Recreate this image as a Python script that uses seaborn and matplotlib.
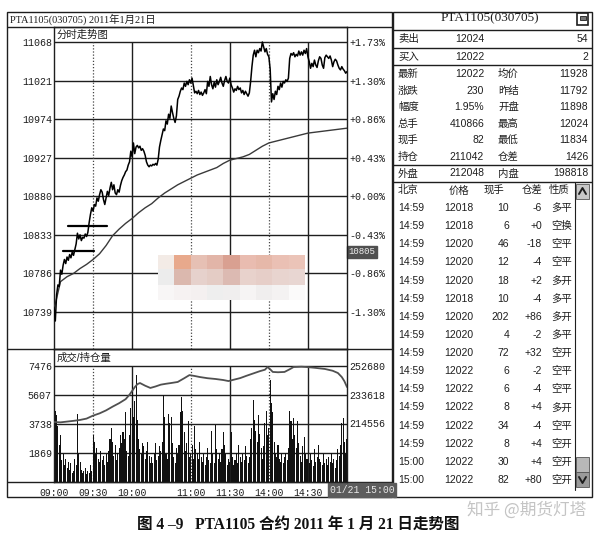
import numpy as np
import matplotlib
matplotlib.use("Agg")
import matplotlib.pyplot as plt
import seaborn as sns
from matplotlib.patches import Rectangle
from matplotlib.colors import to_rgb

# ── data ─────────────────────────────────────────────────────────────────────
# minute index: 0 = 09:00 ... 225 = 15:00 (breaks squeezed out)
price = [
    10745, 10728, 10760, 10772, 10770, 10790, 10785, 10796, 10803, 10798,
    10806, 10802, 10809, 10805, 10812, 10808, 10815, 10822, 10835, 10828,
    10833, 10826, 10830, 10829, 10834, 10831, 10836, 10848, 10858, 10866,
    10862, 10870, 10868, 10878, 10874, 10882, 10888, 10885, 10876, 10870,
    10878, 10886, 10881, 10890, 10897, 10888, 10894, 10884, 10882, 10888,
    10885, 10893, 10899, 10903, 10906, 10910, 10912, 10918, 10922, 10935,
    10928, 10945, 10932, 10940, 10942, 10939, 10941, 10936, 10938, 10935,
    10930, 10922, 10918, 10916, 10918, 10917, 10919, 10918, 10920, 10918,
    10925, 10940, 10948, 10955, 10962, 10960, 10972, 10968, 10980, 10975,
    10990, 10982, 10975, 10970, 10978, 10998, 11002, 11008, 11012, 11010,
    11018, 11014, 11020, 11016, 11022, 11018, 11024, 11015, 11006, 11008,
    11005, 11009, 11004, 11007, 11003, 11006, 11010, 11005, 11020, 11014,
    11026, 11016, 11011, 11019, 11013, 11022, 11016, 11020, 11025, 11018,
    11014, 11021, 11026, 11020, 11018, 11024, 11016, 11012, 11007, 11011,
    11009, 11014, 11010, 11012, 11006, 11009, 11004, 11008, 11005, 11002,
    11006, 11020, 11038, 11052, 11058, 11050, 11058, 11055, 11060, 11057,
    11068, 11062, 11056, 11060, 11053, 11050, 11035, 10995, 11005, 10998,
    11008, 11004, 11014, 11010, 11018, 11013, 11020, 11018, 11022, 11020,
    11024, 11048, 11054, 11052, 11055, 11050, 11053, 11051, 11057, 11052,
    11056, 11052, 11058, 11054, 11060, 11050, 11044, 11036, 11042, 11038,
    11046, 11040, 11037, 11045, 11050, 11048, 11040, 11036, 11049, 11052,
    11050, 11048, 11051, 11046, 11038, 11044, 11047, 11045, 11040, 11036,
    11034, 11038, 11035, 11033, 11030, 11032,
]

volume = [
    5800, 4600, 4300, 3600, 2400, 3000, 1400, 1800, 1100, 1500, 900, 1300, 800, 1200, 600,
    700, 1500, 1100, 4400, 1900, 1300, 800, 600, 700, 900, 500, 700, 600, 1100, 700,
    3000, 2600, 1800, 2200, 1500, 1300, 2000, 1400, 1700, 1100, 1800, 1300, 2000, 2800, 3500,
    2600, 1700, 2400, 1400, 1900, 2200, 3000, 2500, 3200, 2800, 4500, 2000, 1700, 3000, 4800,
    6200, 4200, 5200, 6900, 4000, 2800, 2100, 1800, 2500, 2300, 1500, 2000, 2600, 1700, 1200,
    1600, 1200, 1900, 2500, 1400, 1700, 2300, 2000, 2600, 5600, 4200, 1800, 1500, 4400, 3800,
    4200, 2500, 1600, 1200, 2200, 1800, 2400, 4500, 5500, 4600, 3200, 2000, 2500, 3900, 1600,
    1800, 2400, 1500, 3600, 2100, 1900, 1500, 2600, 1600, 1300, 1800, 1100, 1600, 2200, 1400,
    1200, 3300, 1800, 1200, 3700, 2100, 1500, 1900, 1300, 2100, 3200, 2400, 1800, 1100, 1500,
    1300, 3200, 1600, 1100, 1400, 1900, 1200, 2400, 1600, 1300, 1800, 1400, 2300, 1700, 1200,
    1600, 2800, 3500, 5300, 4000, 3300, 2600, 4300, 3100, 2200, 1500, 2300, 3800, 4600, 3000,
    3500, 6600, 5100, 4500, 2600, 1900, 1600, 2400, 1500, 1300, 1800, 1200, 1600, 1900, 1400,
    2200, 4600, 3900, 2800, 4100, 3000, 2200, 3900, 2500, 1700, 1300, 2300, 2900, 1800, 1500,
    1500, 1200, 1800, 1400, 1000, 2100, 1300, 1600, 2400, 1500, 1300, 1100, 1800, 1200, 1500,
    1100, 1600, 1300, 1900, 1200, 1500, 900, 1400, 2100, 1700, 2400, 3800, 4100, 2600, 1900, 2800,
]
minutes = np.arange(len(price))

avg_min = [0, 5, 10, 15, 20, 25, 30, 35, 40, 45, 50, 55, 60, 65, 70, 75, 80, 85, 90, 95,
           100, 105, 110, 115, 120, 125, 130, 135, 140, 145, 150, 155, 160, 165, 170, 175,
           180, 185, 190, 195, 200, 205, 210, 215, 220, 225]
avg_val = [10742, 10776, 10782, 10786, 10792, 10797, 10803, 10810, 10820, 10832, 10840,
           10847, 10853, 10860, 10866, 10871, 10878, 10884, 10889, 10894, 10898, 10902,
           10906, 10909, 10912, 10915, 10920, 10924, 10926, 10928, 10931, 10936, 10941,
           10945, 10947, 10949, 10951, 10953, 10955, 10957, 10958, 10959, 10960, 10961,
           10962, 10963]

oi_min = [0, 5, 10, 15, 20, 25, 30, 35, 40, 45, 50, 55, 58, 60, 62, 64, 66, 70, 74, 78,
          82, 86, 90, 95, 100, 104, 108, 112, 118, 124, 130, 134, 138, 143, 148, 154, 158,
          162, 164, 166, 168, 172, 177, 181, 184, 190, 194, 200, 208, 214, 218, 221, 223, 225]
oi_val = [215200, 215000, 215500, 216000, 216600, 217500, 219500, 221000, 223000, 225500,
          227800, 230500, 233500, 236000, 238500, 240500, 241300, 239500, 238000, 239000,
          240200, 240800, 241300, 242000, 244500, 246600, 246000, 245300, 244500, 244000,
          243300, 242600, 243500, 244600, 246200, 248000, 249200, 250200, 252000, 250500,
          248700, 248500, 248700, 250500, 252000, 252200, 252000, 251500, 250700, 249500,
          248000, 245300, 242500, 238600]

price_levels = [11068, 11021, 10974, 10927, 10880, 10833, 10786, 10739]
pct_labels = ["+1.73%", "+1.30%", "+0.86%", "+0.43%", "+0.00%", "-0.43%", "-0.86%", "-1.30%"]
vol_levels = [7476, 5607, 3738, 1869]
oi_levels = [252680, 233618, 214556]

time_ticks = [0, 30, 60, 105, 135, 165, 195]
time_labels = ["09:00", "09:30", "10:00", "11:00", "11:30", "14:00", "14:30"]
solid_vlines = [60, 135, 195]
dotted_vlines = [30, 105, 165]

# hand-drawn support lines on the chart
mark_level = [10844, 10813]
mark_start = [11, 7]
mark_end = [41, 31]

# quote panel
sb_label = ["卖出", "买入"]
sb_price = ["12024", "12022"]
sb_vol = ["54", "2"]
q_left = ["最新", "涨跌", "幅度", "总手", "现手", "持仓", "外盘"]
q_left_val = ["12022", "230", "1.95%", "410866", "82", "211042", "212048"]
q_right = ["均价", "昨结", "开盘", "最高", "最低", "仓差", "内盘"]
q_right_val = ["11928", "11792", "11898", "12024", "11834", "1426", "198818"]
trade_head = ["北京", "价格", "现手", "仓差", "性质"]
trade_time = ["14:59"] * 14 + ["15:00"] * 2
trade_price = ["12018", "12018", "12020", "12020", "12020", "12018", "12020", "12020",
               "12020", "12022", "12022", "12022", "12022", "12022", "12022", "12022"]
trade_vol = ["10", "6", "46", "12", "18", "10", "202", "4", "72", "6", "6", "8", "34", "8",
             "30", "82"]
trade_oi = ["-6", "+0", "-18", "-4", "+2", "-4", "+86", "-2", "+32", "-2", "-4", "+4", "-4",
            "+4", "+4", "+80"]
trade_kind = ["多平", "空换", "空平", "空平", "多开", "多平", "多开", "多平", "空开", "空平",
              "空平", "多开", "空平", "空开", "空开", "空开"]

# mosaic blur patch colours
mosaic = [
    ["#f3ebe6", "#e8a98c", "#e6c0b4", "#e2b5a8", "#d9a091", "#e9bcb0", "#e6b8a9", "#eac0b4", "#ebc4b8"],
    ["#ececec", "#dbb8ae", "#e6d1cc", "#e4ccc5", "#dcbab2", "#e8d2cc", "#e6cec8", "#e8d4cf", "#e8d6d2"],
    ["#f8f6f6", "#f6f2f2", "#f4f0f0", "#eeeeee", "#f0eeee", "#f6f4f4", "#f0eeee", "#f4f2f2", "#fbfafa"],
]

# ── style ────────────────────────────────────────────────────────────────────
sns.set_theme(style="white")
plt.rcParams["font.family"] = ["DejaVu Sans", "Noto Sans CJK SC"]
MONO = ["Liberation Mono", "Noto Sans CJK SC"]
TAB = ["Liberation Sans", "Noto Sans CJK SC"]
SERIF = ["Liberation Serif", "Noto Sans CJK SC"]
INK = "#1e1e1e"

W, H = 610, 539
fig = plt.figure(figsize=(W / 100, H / 100), dpi=100)
fig.patch.set_facecolor("white")


def box(x0, y0, x1, y1):
    return [x0 / W, 1 - y1 / H, (x1 - x0) / W, (y1 - y0) / H]


# background layer in pixel coordinates (frames + table text)
bg = fig.add_axes([0, 0, 1, 1])
bg.set_xlim(0, W)
bg.set_ylim(H, 0)
bg.axis("off")


def hline(y, x0, x1, lw=1.0):
    bg.plot([x0, x1], [y, y], color=INK, lw=lw, solid_capstyle="butt")


# left panel frame
bg.add_patch(Rectangle((7, 12), 385, 485, fill=False, ec=INK, lw=1.0))
hline(27, 7, 392)
hline(349, 7, 392)
hline(482, 7, 392)
bg.text(10, 19.5, "PTA1105(030705) 2011年1月21日", family=SERIF, fontsize=7.5,
        ha="left", va="center", color=INK)
bg.text(57, 34.5, "分时走势图", fontsize=7.5, family=TAB, ha="left", va="center", color=INK)
bg.text(57, 358, "成交/持仓量", fontsize=7.5, family=TAB, ha="left", va="center", color=INK)
bg.text(362, 252, "10805", family=MONO, fontsize=6.5, ha="center", va="center", color="#eeeeee",
        bbox=dict(boxstyle="square,pad=0.15", fc="#505050", ec="#505050"))
bg.text(362, 490, "01/21 15:00", family=MONO, fontsize=7, ha="center", va="center",
        color="#e6e6e6", bbox=dict(boxstyle="square,pad=0.2", fc="#5c5c5c", ec="#5c5c5c"))

# right quote panel
bg.add_patch(Rectangle((393, 12), 199, 485, fill=False, ec=INK, lw=1.0))
for yy in [30, 48, 65, 165, 182]:
    hline(yy, 393, 592)
bg.text(490, 18.5, "PTA1105(030705)", family=SERIF, fontsize=9.5, ha="center", va="center",
        color=INK)
bg.add_patch(Rectangle((577, 13), 11, 12, fill=False, ec=INK, lw=1.2))
bg.add_patch(Rectangle((579.5, 16), 6, 3.5, fc="#777777", ec=INK, lw=0.6))

for i in range(len(sb_label)):
    yy = 39 + i * 18
    bg.text(398, yy, sb_label[i], family=TAB, fontsize=7.5, va="center", color=INK)
    bg.text(484, yy, sb_price[i], family=TAB, fontsize=7.5, va="center", ha="right", color=INK)
    bg.text(588, yy, sb_vol[i], family=TAB, fontsize=7.5, va="center", ha="right", color=INK)

for i in range(len(q_left)):
    yy = 74 + i * 16.6 if i < 6 else 173.5
    bg.text(398, yy, q_left[i], family=TAB, fontsize=7.5, va="center", color=INK)
    bg.text(484, yy, q_left_val[i], family=TAB, fontsize=7.5, va="center", ha="right", color=INK)
    bg.text(498, yy, q_right[i], family=TAB, fontsize=7.5, va="center", color=INK)
    bg.text(588, yy, q_right_val[i], family=TAB, fontsize=7.5, va="center", ha="right", color=INK)

for txt, xx in zip(trade_head, [398, 459, 494, 532, 559]):
    bg.text(xx, 190.5, txt, family=TAB, fontsize=7.5, va="center",
            ha="left" if xx == 398 else "center", color=INK)
for i in range(len(trade_time)):
    yy = 208 + i * 18.13
    bg.text(398, yy, trade_time[i], family=TAB, fontsize=7.5, va="center", color=INK)
    bg.text(473, yy, trade_price[i], family=TAB, fontsize=7.5, va="center", ha="right", color=INK)
    bg.text(509, yy, trade_vol[i], family=TAB, fontsize=7.5, va="center", ha="right", color=INK)
    bg.text(542, yy, trade_oi[i], family=TAB, fontsize=7.5, va="center", ha="right", color=INK)
    bg.text(551, yy, trade_kind[i], family=TAB, fontsize=7.5, va="center", color=INK)

# scroll bar
bg.plot([575, 575], [182, 490], color=INK, lw=0.8)
bg.add_patch(Rectangle((576, 183.5), 13, 15, fc="#c8c8c8", ec="#555555", lw=0.6))
bg.plot([579, 582.5, 586], [194, 188, 194], color=INK, lw=1.4)
bg.add_patch(Rectangle((576, 457), 13, 15, fc="#b8b8b8", ec="#555555", lw=0.6))
bg.add_patch(Rectangle((576, 472), 13, 15, fc="#9a9a9a", ec="#555555", lw=0.6))
bg.plot([579, 582.5, 586], [477, 483, 477], color=INK, lw=1.4)

# caption + watermark
bg.text(298, 525, "图 4 –9   PTA1105 合约 2011 年 1 月 21 日走势图", family=SERIF,
        fontsize=11.2, fontweight="bold", ha="center", va="center", color="#111111")
bg.text(527, 510, "知乎 @期货灯塔", family=["Noto Sans CJK SC"], fontsize=12,
        ha="center", va="center", color="#c4c4c4")

# ── price panel ──────────────────────────────────────────────────────────────
ax1 = fig.add_axes(box(54, 27, 347, 349))
ax1.set_facecolor("none")
p_lo, p_hi = 10693.9, 11086.3
for lv in price_levels:
    ax1.axhline(lv, color=INK, lw=1.0, zorder=1)
ax1.vlines(solid_vlines, p_lo, price_levels[0], colors=INK, lw=1.0, zorder=1)
ax1.vlines(dotted_vlines, p_lo, price_levels[0], colors="#444444", lw=0.9,
           linestyles=(0, (1, 1.5)), zorder=1)
sns.lineplot(x=avg_min, y=avg_val, ax=ax1, color="#3a3a3a", lw=1.0, zorder=3)
sns.lineplot(x=minutes, y=price, ax=ax1, color="black", lw=1.1, zorder=4)
for lv, s, e in zip(mark_level, mark_start, mark_end):
    ax1.plot([s, e], [lv, lv], color="black", lw=1.6, zorder=5)
ax1.set_xlim(0, 225)
ax1.set_ylim(p_lo, p_hi)
ax1.set_xticks([])
ax1.set_yticks(price_levels)
ax1.set_yticklabels([str(v) for v in price_levels], family=MONO, fontsize=7.2, color=INK)
ax1.tick_params(axis="y", length=0, pad=1.5)
ax1.set_xlabel("")
ax1.set_ylabel("")
for sp in ax1.spines.values():
    sp.set_color(INK)
    sp.set_linewidth(1.0)

ax1r = ax1.twinx()
ax1r.set_ylim(p_lo, p_hi)
ax1r.set_yticks(price_levels)
ax1r.set_yticklabels(pct_labels, family=MONO, fontsize=7.2, color=INK)
ax1r.tick_params(axis="y", length=0, pad=1.5)
for sp in ax1r.spines.values():
    sp.set_visible(False)

# mosaic patch over the chart
mos = fig.add_axes(box(158, 255, 305, 300))
mos.imshow([[to_rgb(c) for c in row] for row in mosaic], aspect="auto", interpolation="nearest")
mos.axis("off")

# ── volume / open interest panel ─────────────────────────────────────────────
ax2 = fig.add_axes(box(54, 349, 347, 482))
ax2.set_facecolor("none")
v_hi = 8571.6
for lv in vol_levels:
    ax2.axhline(lv, color=INK, lw=1.0, zorder=1)
ax2.vlines(solid_vlines, 0, vol_levels[0], colors=INK, lw=1.0, zorder=1)
ax2.vlines(dotted_vlines, 0, vol_levels[0], colors="#444444", lw=0.9,
           linestyles=(0, (1, 1.5)), zorder=1)
ax2.bar(minutes, volume, width=0.8, color="#111111", linewidth=0, zorder=2)
ax2.set_xlim(0, 225)
ax2.set_ylim(0, v_hi)
ax2.set_yticks(vol_levels)
ax2.set_yticklabels([str(v) for v in vol_levels], family=MONO, fontsize=7.2, color=INK)
ax2.set_xticks(time_ticks)
ax2.set_xticklabels(time_labels, family=MONO, fontsize=7, color=INK)
ax2.tick_params(axis="both", length=0, pad=1.5)
ax2.tick_params(axis="x", pad=4)
for sp in ax2.spines.values():
    sp.set_color(INK)
    sp.set_linewidth(1.0)

ax2r = ax2.twinx()
sns.lineplot(x=oi_min, y=oi_val, ax=ax2r, color="#505050", lw=1.3, zorder=3)
ax2r.set_ylim(175095, 264050)
ax2r.set_yticks(oi_levels)
ax2r.set_yticklabels([str(v) for v in oi_levels], family=MONO, fontsize=7.2, color=INK)
ax2r.tick_params(axis="y", length=0, pad=1.5)
ax2r.set_ylabel("")
for sp in ax2r.spines.values():
    sp.set_visible(False)

fig.savefig("out.png", dpi=100)
